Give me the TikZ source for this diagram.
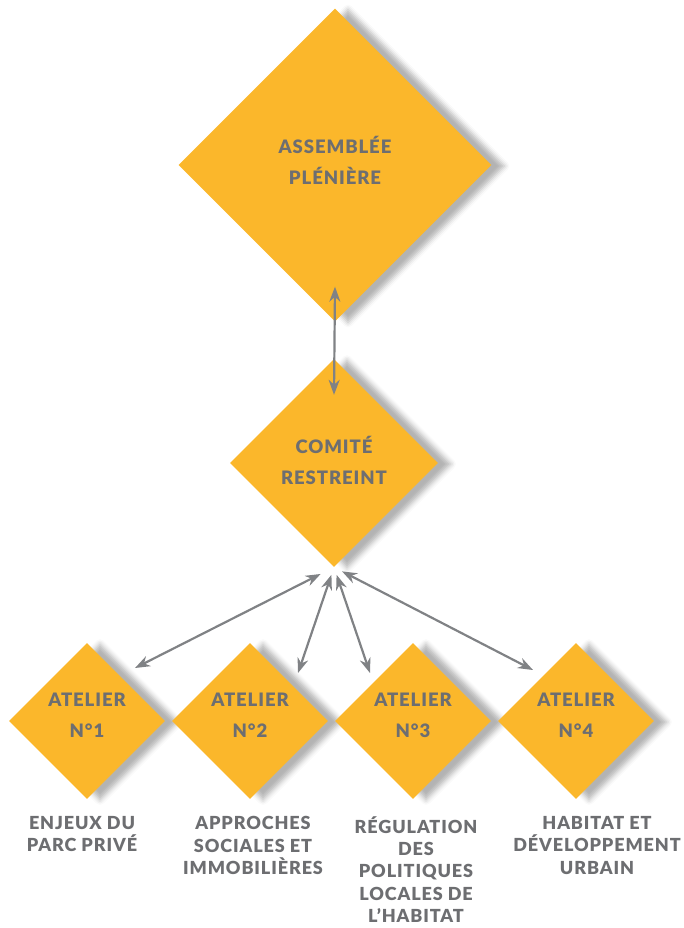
\documentclass[tikz,border=0pt]{standalone}
\usepackage{fontspec}
\setmainfont{Lato}[BoldFont={Lato Black},LetterSpace=5]
\usetikzlibrary{arrows.meta,shapes.geometric,shadows.blur}

\definecolor{jaune}{HTML}{FBB72B}
\definecolor{gristexte}{HTML}{6D6E71}
\definecolor{grisfleche}{HTML}{808285}

\begin{document}
\begin{tikzpicture}[x=1pt,y=-1pt,>={Stealth[length=15pt,width=11pt]},
    node distance=163pt,
    losange/.style={diamond,aspect=1,fill=jaune,inner sep=0pt,
      blur shadow={shadow xshift=13pt,shadow yshift=-1pt,
        shadow blur radius=5pt,shadow opacity=30}},
    titre/.style={text=gristexte,align=center,
      font=\bfseries\fontsize{18.5}{31}\selectfont},
    legende/.style={text=gristexte,align=center,anchor=north,
      font=\bfseries\fontsize{18}{22.3}\selectfont,
      execute at begin node={\vphantom{É}}},
    link/.style={<->,draw=grisfleche,line width=2.2pt}]

  \useasboundingbox (0,0) rectangle (683,928);

  % les instances
  \node[losange,minimum size=313pt,
    label={[titre,yshift=5pt]center:ASSEMBLÉE\\PLÉNIÈRE}] (assemblee) at (335,165) {};
  \node[losange,minimum size=208pt,
    label={[titre,yshift=3pt]center:COMITÉ\\RESTREINT}] (comite) at (334,463) {};

  % les ateliers
  \node[losange,minimum size=156pt,
    label={[titre,yshift=6pt]center:ATELIER\\N°1}] (a1) at (87,721) {};
  \node[losange,minimum size=156pt,
    label={[titre,yshift=6pt]center:ATELIER\\N°2}] (a2) [right of=a1] {};
  \node[losange,minimum size=156pt,
    label={[titre,yshift=6pt]center:ATELIER\\N°3}] (a3) [right of=a2] {};
  \node[losange,minimum size=156pt,
    label={[titre,yshift=6pt]center:ATELIER\\N°4}] (a4) [right of=a3] {};

  \node[legende] (t1) at (82,813) {ENJEUX DU\\PARC PRIVÉ};
  \node[legende] (t2) at (253,813) {APPROCHES\\SOCIALES ET\\IMMOBILIÈRES};
  \node[legende] (t3) at (416,813) {RÉGULATION\\DES\\POLITIQUES\\LOCALES DE\\L’HABITAT};
  \node[legende] (t4) at (597,813) {HABITAT ET\\DÉVELOPPEMENT\\URBAIN};

  \draw[link] ([yshift=35pt]assemblee.south) -- ([yshift=-36pt]comite.north);
  \draw[link,shorten <=15pt] (comite.south) -- ([shift={(48,-53)}]a1.center);
  \draw[link,shorten <=8pt] (comite.south) -- ([shift={(48,-48)}]a2.center);
  \draw[link,shorten <=8pt] (comite.south) -- ([shift={(-43,-48)}]a3.center);
  \draw[link,shorten <=9pt] (comite.south) -- ([shift={(-43,-51)}]a4.center);

\end{tikzpicture}
\end{document}
